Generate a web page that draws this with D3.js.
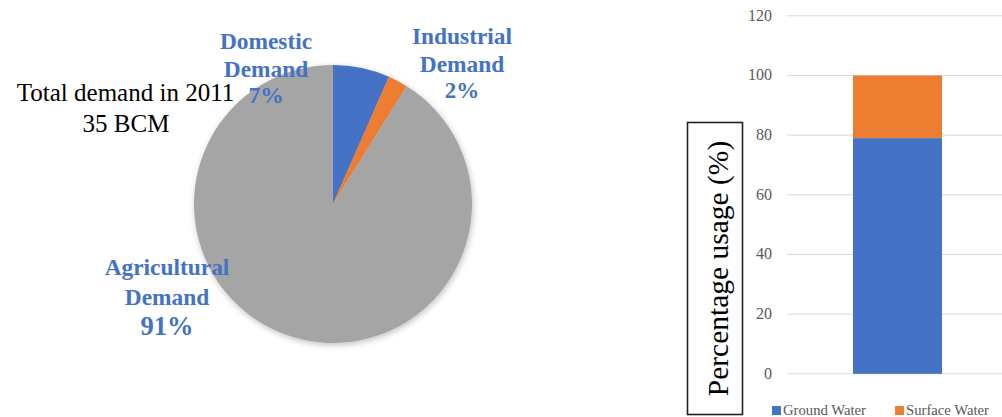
<!DOCTYPE html>
<html><head><meta charset="utf-8">
<script src="https://cdn.jsdelivr.net/npm/d3@7"></script>
<style>body{margin:0;background:#fff}svg{display:block}</style>
</head><body>
<svg id="c" width="1002" height="417" font-family="Liberation Serif, Tinos, Times New Roman, serif"></svg>
<script>
const pieCategories = ["Domestic Demand", "Industrial Demand", "Agricultural Demand"];
const pieValues = [6.6, 2.3, 91.1];
const pieLabels = ["7%", "2%", "91%"];
const pieColors = ["#4472C4", "#ED7D31", "#A5A5A5"];

const barSeries = ["Ground Water", "Surface Water"];
const barValues = [79, 21];
const barColors = ["#4472C4", "#ED7D31"];
const yTicks = [0, 20, 40, 60, 80, 100, 120];

const svg = d3.select("#c");
const defs = svg.append("defs");
const f = defs.append("filter").attr("id","sh").attr("x","-20%").attr("y","-20%").attr("width","140%").attr("height","140%");
f.append("feGaussianBlur").attr("in","SourceAlpha").attr("stdDeviation",3);
f.append("feOffset").attr("dx",1).attr("dy",2).attr("result","b");
f.append("feComponentTransfer").append("feFuncA").attr("type","linear").attr("slope",0.25);
const m = f.append("feMerge"); m.append("feMergeNode"); m.append("feMergeNode").attr("in","SourceGraphic");

// Pie
const cx = 333, cy = 204, r = 139;
const pie = d3.pie().sort(null).value(d => d)(pieValues);
const arc = d3.arc().innerRadius(0).outerRadius(r);
const pg = svg.append("g").attr("transform",`translate(${cx},${cy})`).attr("filter","url(#sh)");
pg.selectAll("path").data(pie).join("path").attr("d", arc).attr("fill",(d,i)=>pieColors[i]);

// Total text
const tt = svg.append("g").attr("font-size",25).attr("fill","#000").attr("text-anchor","middle");
tt.append("text").attr("x",125.5).attr("y",101).text("Total demand in 2011");
tt.append("text").attr("x",126).attr("y",132).text("35 BCM");

// Pie labels
const labelPos = [
  {x:266, ys:[49,77,103], fs:[23.4,23.4,23.5]},
  {x:462, ys:[44,72,98], fs:[23.4,23.4,23]},
  {x:167, ys:[275,305,335], fs:[23.4,23.4,26.5]}
];
const lg = svg.append("g").attr("font-weight","bold").attr("fill","#4472C4").attr("text-anchor","middle");
pieCategories.forEach((c,i) => {
  const parts = c.split(" ");
  const lines = [parts[0], parts[1], pieLabels[i]];
  lines.forEach((t,j) => lg.append("text").attr("x",labelPos[i].x).attr("y",labelPos[i].ys[j]).attr("font-size",labelPos[i].fs[j]).text(t));
});

// Bar chart
const y = d3.scaleLinear().domain([0,120]).range([373.8,15.8]);
const gx0 = 787, gx1 = 1002;
const bg = svg.append("g");
bg.selectAll("line.grid").data(yTicks).join("line").attr("class","grid")
  .attr("x1",gx0).attr("x2",gx1).attr("y1",d=>y(d)).attr("y2",d=>y(d))
  .attr("stroke","#D9D9D9").attr("stroke-width",1);
bg.selectAll("text.tick").data(yTicks).join("text").attr("class","tick")
  .attr("x",772).attr("y",d=>y(d)+5).attr("text-anchor","end")
  .attr("font-size",16).attr("fill","#595959")
  .text(d=>d);

const stack = d3.stack().keys(barSeries)([Object.fromEntries(barSeries.map((k,i)=>[k,barValues[i]]))]);
bg.selectAll("rect.bar").data(stack).join("rect").attr("class","bar")
  .attr("x",853).attr("width",89)
  .attr("y",d=>y(d[0][1])).attr("height",d=>y(d[0][0])-y(d[0][1]))
  .attr("fill",(d,i)=>barColors[i]);

// Y-axis title box
svg.append("rect").attr("x",687.5).attr("y",122.5).attr("width",55).attr("height",292).attr("fill","none").attr("stroke","#222").attr("stroke-width",1.6);
svg.append("text").attr("transform","translate(728,268.5) rotate(-90)").attr("text-anchor","middle")
  .attr("font-size",29.5).attr("fill","#000")
  .text("Percentage usage (%)");

// Legend
const legX = [772, 895];
const leg = svg.append("g");
barSeries.forEach((s,i)=>{
  leg.append("rect").attr("x",legX[i]).attr("y",406).attr("width",9).attr("height",9).attr("fill",barColors[i]);
  leg.append("text").attr("x",legX[i]+11).attr("y",415).attr("font-size",14.7).attr("fill","#595959").text(s);
});

svg.selectAll("text").each(function(){ this.style.setProperty("font-family", '"Liberation Serif", Tinos, "Times New Roman", serif', "important"); });
</script>
</body></html>
